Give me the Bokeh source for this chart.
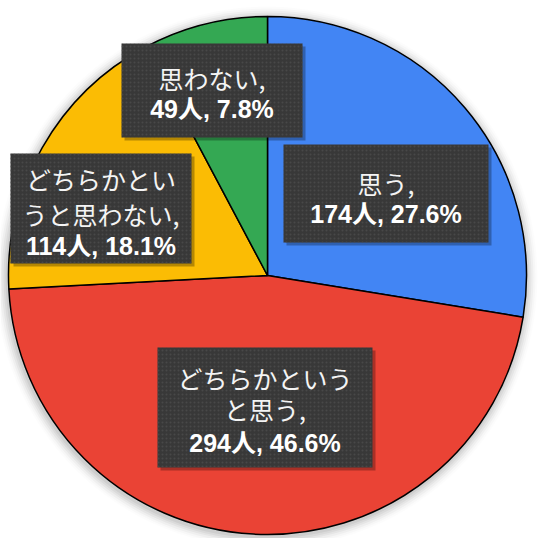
import math
from bokeh.plotting import figure
from bokeh.models import Range1d, ColumnDataSource
from bokeh.core.properties import value
from bokeh.embed import file_html
from bokeh.resources import INLINE

# ---- data ----
categories = ["思う", "どちらかというと思う", "どちらかというと思わない", "思わない"]
counts = [174, 294, 114, 49]
percents = [27.6, 46.6, 18.1, 7.8]
colors = ["#4285F4", "#EA4335", "#FBBC04", "#34A853"]
# category text as it is broken over lines in the label boxes
category_lines = [["思う,"], ["どちらかという", "と思う,"], ["どちらかとい", "うと思わない,"], ["思わない,"]]

# ---- layout (screen pixel coordinates of the original) ----
cx, cy_s, R = 267, 275, 259
boxes = [  # left, top, right, bottom
    (283, 144, 488, 242),
    (157, 347, 372, 467),
    (10, 153, 191, 263),
    (121, 43, 302, 137),
]
line_ys = [
    [182, 213],
    [377, 408, 442],
    [178, 213, 245],
    [77, 108],
]

W = H = 538
p = figure(width=W, height=H, output_backend="svg", toolbar_location=None,
           x_range=Range1d(0, 538), y_range=Range1d(0, 538),
           min_border=0, outline_line_color=None, background_fill_color="white",
           border_fill_color="white")
p.axis.visible = False
p.grid.visible = False

def Y(ys):
    return 538 - ys

cy = Y(cy_s)

# soft shadow around pie
for i, a in enumerate([0.05, 0.045, 0.04, 0.03, 0.02, 0.012]):
    p.circle(x=[cx - 1], y=[cy - 2], radius=R + 2 + i * 2, fill_color="black",
             fill_alpha=a, line_color=None)

total = sum(counts)
starts, ends = [], []
acc = 0
for c in counts:
    s = math.pi / 2 - 2 * math.pi * acc / total
    acc += c
    e = math.pi / 2 - 2 * math.pi * acc / total
    starts.append(s)
    ends.append(e)

src = ColumnDataSource(dict(start=starts, end=ends, color=colors,
                            x=[cx] * 4, y=[cy] * 4))
p.wedge(x="x", y="y", radius=R, start_angle="start", end_angle="end",
        direction="clock", fill_color="color", line_color="black",
        line_width=1.5, source=src)

jp_font = value("Noto Sans CJK JP")
num_font = value("Liberation Sans, 'Noto Sans CJK JP'")
for i in range(len(categories)):
    l, t, r, b = boxes[i]
    # box shadow
    p.quad(left=[l + 3], right=[r + 3], top=[Y(t) - 3], bottom=[Y(b) - 3],
           fill_color="black", fill_alpha=0.28, line_color=None)
    p.quad(left=[l], right=[r], top=[Y(t)], bottom=[Y(b)],
           fill_color="#383838", line_color=None,
           hatch_pattern="dot", hatch_color="#4c4c4c", hatch_scale=4,
           hatch_alpha=0.8)
    xc = (l + r) / 2
    lines = category_lines[i]
    ys = line_ys[i]
    for k, txt in enumerate(lines):
        p.text(x=[xc], y=[Y(ys[k])], text=[txt], text_font=jp_font,
               text_font_size="25px", text_color="#f4f4f4",
               text_align="center", text_baseline="middle")
    num = f"{counts[i]}人, {percents[i]}%"
    p.text(x=[xc], y=[Y(ys[len(lines)])], text=[num], text_font=num_font,
           text_font_size="25px", text_font_style="bold", text_color="white",
           text_align="center", text_baseline="middle")

open("out.html", "w").write(file_html(p, INLINE))
